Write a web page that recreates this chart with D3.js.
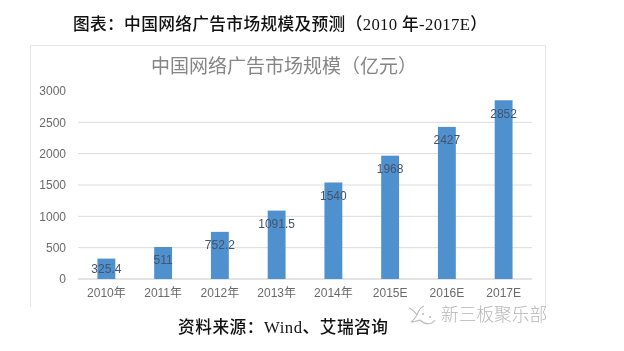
<!DOCTYPE html>
<html lang="en">
<head>
    <title>中国网络广告市场规模</title>
    <meta charset="utf-8">
    <script src="https://d3js.org/d3.v7.min.js"></script>
    <style>
        html, body { margin: 0; padding: 0; background: #fff; overflow: hidden; }
    </style>
</head>
<body>
<div id="visualization"></div>
<script>
    // Values
    const years = ["2010年", "2011年", "2012年", "2013年", "2014年", "2015E", "2016E", "2017E"];
    const marketSize = [325.4, 511, 752.2, 1091.5, 1540, 1968, 2427, 2852];
    const valueLabels = ["325.4", "511", "752.2", "1091.5", "1540", "1968", "2427", "2852"];
    const yTicks = [0, 500, 1000, 1500, 2000, 2500, 3000];

    const headline = "图表：中国网络广告市场规模及预测（2010 年-2017E）";
    const chartTitle = "中国网络广告市场规模（亿元）";
    const source = "资料来源：Wind、艾瑞咨询";
    const watermark = "新三板聚乐部";

    const serif = "'Liberation Serif', 'Noto Sans CJK SC', serif";
    const sans = "'Liberation Sans', 'Noto Sans CJK SC', sans-serif";

    const margin = {top: 91, right: 92, bottom: 72, left: 78},
        width = 624 - margin.left - margin.right,
        height = 351 - margin.top - margin.bottom;

    const root = d3.select("#visualization")
        .append("svg")
        .attr("width", 624)
        .attr("height", 351);

    // The source is a low resolution screenshot, so the inner chart is soft
    const defs = root.append("defs");
    defs.append("filter").attr("id", "soft")
        .append("feGaussianBlur").attr("stdDeviation", 0.6);

    // Frame of the pasted chart, open at the bottom
    root.append("path")
        .attr("d", "M30.5,307V45.5H545.5V307")
        .attr("fill", "none")
        .attr("stroke", "#e4e4e4");

    const svg = root.append("g")
        .attr("transform", `translate(${margin.left},${margin.top})`)
        .attr("filter", "url(#soft)");

    const x = d3.scaleBand()
        .range([0, width])
        .domain(years)
        .paddingInner(0.685)
        .paddingOuter(0.3425);

    const y = d3.scaleLinear()
        .range([height, 0])
        .domain([0, 3000]);

    // Gridlines
    svg.selectAll("line.grid")
        .data(yTicks)
        .join("line")
        .attr("class", "grid")
        .attr("x1", 0)
        .attr("x2", width)
        .attr("y1", d => y(d))
        .attr("y2", d => y(d))
        .attr("stroke", d => d === 3000 ? "none" : (d === 0 ? "#c8c8c8" : "#dcdcdc"));

    // Y axis
    const yAxis = svg.append("g")
        .call(d3.axisLeft(y).tickValues(yTicks).tickFormat(d3.format("d")).tickSize(0).tickPadding(12));
    yAxis.select(".domain").remove();
    yAxis.selectAll("text")
        .attr("font-family", sans)
        .attr("font-size", 12)
        .attr("fill", "#6a6a6a");

    // X axis
    const xAxis = svg.append("g")
        .attr("transform", `translate(0,${height})`)
        .call(d3.axisBottom(x).tickSize(0).tickPadding(9));
    xAxis.select(".domain").remove();
    xAxis.selectAll("text")
        .attr("font-family", sans)
        .attr("font-size", 12)
        .attr("fill", "#6a6a6a");

    // Bars
    svg.selectAll("rect.bar")
        .data(years)
        .join("rect")
        .attr("class", "bar")
        .attr("x", d => x(d))
        .attr("y", (d, i) => y(marketSize[i]))
        .attr("width", x.bandwidth())
        .attr("height", (d, i) => height - y(marketSize[i]))
        .attr("fill", "#5090cf");

    // Value labels sit inside the bar ends, short bars get them centred
    svg.selectAll("text.value")
        .data(years)
        .join("text")
        .attr("class", "value")
        .attr("x", d => x(d) + x.bandwidth() / 2)
        .attr("y", (d, i) => Math.min(y(marketSize[i]) + 17.5, (y(marketSize[i]) + height) / 2 + 4))
        .attr("text-anchor", "middle")
        .attr("font-family", sans)
        .attr("font-size", 12)
        .attr("fill", "#44546a")
        .text((d, i) => valueLabels[i]);

    root.append("text")
        .attr("x", 284)
        .attr("y", 73)
        .attr("text-anchor", "middle")
        .attr("font-family", sans)
        .attr("font-size", 19)
        .attr("fill", "#858585")
        .attr("filter", "url(#soft)")
        .text(chartTitle);

    root.append("text")
        .attr("x", 73)
        .attr("y", 29.5)
        .attr("font-family", serif)
        .attr("font-size", 16.7)
        .attr("font-weight", 500)
        .attr("textLength", 414)
        .attr("fill", "#111")
        .text(headline);

    root.append("text")
        .attr("x", 178)
        .attr("y", 333)
        .attr("font-family", serif)
        .attr("font-size", 16.7)
        .attr("font-weight", 500)
        .attr("textLength", 210)
        .attr("fill", "#111")
        .text(source);

    // Watermark
    const mark = root.append("g")
        .attr("fill", "none")
        .attr("stroke", "#bdbdbd")
        .attr("stroke-width", 1.1)
        .attr("filter", "url(#soft)");
    mark.append("path").attr("d", "M409,308c3,1 6,4 8,7c-2,3 -4,6 -6,7c3,0 6,-1 9,-2c5,5 12,5 15,0");
    mark.append("path").attr("d", "M417,315c1,-4 3,-7 7,-9");
    mark.append("path").attr("d", "M423,314h.1M430,317h.1").attr("stroke-width", 2).attr("stroke-linecap", "round");
    root.append("text")
        .attr("x", 441)
        .attr("y", 321)
        .attr("font-family", sans)
        .attr("font-size", 17.7)
        .attr("font-weight", 300)
        .attr("fill", "#b5b5b5")
        .attr("filter", "url(#soft)")
        .text(watermark);
</script>
</body>
</html>
